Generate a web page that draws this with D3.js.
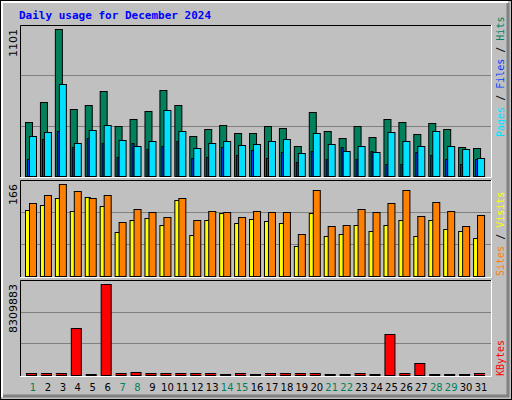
<!DOCTYPE html>
<html>
<head>
  <script src="https://d3js.org/d3.v7.min.js"></script>
  <style>body{margin:0;background:#fff}</style>
</head>
<body>
<div id="chart"></div>
<script>
// Daily values
const days = d3.range(1, 32);
const weekend = [1, 7, 8, 14, 15, 21, 22, 28, 29];
const hits = [404,554,1101,499,532,636,377,424,486,643,532,299,353,382,321,321,375,362,225,479,337,285,375,292,427,404,315,397,353,217,208];
const files = [299,326,689,247,345,382,272,225,259,494,339,210,247,262,232,240,262,277,172,322,240,187,225,180,326,259,225,337,225,202,135];
const pages = [127,277,337,217,284,247,142,247,202,225,262,135,142,217,157,195,135,180,105,187,127,217,127,187,90,90,180,157,127,90,127];
const visits = [132,147,166,153,140,147,97,120,115,106,140,101,117,115,106,117,115,115,76,156,90,92,120,115,132,155,108,133,117,90,110];
const sites = [119,128,140,117,142,126,80,101,104,92,137,74,101,114,96,103,99,96,54,114,72,76,92,81,92,101,72,101,85,81,69];
const kbytes = [180000,180000,180000,4310000,50000,8309883,180000,300000,180000,180000,180000,180000,180000,50000,180000,50000,180000,180000,180000,180000,50000,50000,180000,50000,3760000,180000,1120000,50000,50000,50000,180000];
const maxTop = 1101, maxMid = 166, maxBot = 8309883;

const W = 512, H = 400;
const svg = d3.select("#chart").append("svg").attr("width", W).attr("height", H)
  .style("font-family", "'DejaVu Sans Mono', monospace");

// frame
svg.append("rect").attr("x", 0.5).attr("y", 0.5).attr("width", W - 1).attr("height", H - 1).attr("fill", "#c0c0c0").attr("stroke", "#000");
svg.append("path").attr("d", "M2,397V2H508").attr("fill", "none").attr("stroke", "#fff").attr("stroke-width", 2);
svg.append("path").attr("d", "M508,3V396H3").attr("fill", "none").attr("stroke", "#808080").attr("stroke-width", 3);

svg.append("text").attr("x", 19).attr("y", 19).text("Daily usage for December 2024")
  .attr("fill", "#0000ff").attr("font-weight", "bold").attr("font-size", 11);

const x = d3.scaleBand().domain(days).range([23, 471 + 15]).paddingInner(0);

function panel(top, bottom, max) {
  svg.append("rect").attr("x", 20).attr("y", top).attr("width", 471).attr("height", bottom - top + 1).attr("fill", "#c0c0c0");
  svg.append("path").attr("d", `M20.5,${bottom + 1}V${top + 0.5}H491`).attr("fill", "none").attr("stroke", "#000");
  svg.append("path").attr("d", `M491.5,${top}V${bottom + 1.5}H20`).attr("fill", "none").attr("stroke", "#fff");
  const y = d3.scaleLinear().domain([0, max]).range([bottom, top + 4]);
  [1 / 3, 2 / 3].forEach(f => {
    const gy = Math.round(bottom - (bottom - top) * f) + 0.5;
    svg.append("line").attr("x1", 21).attr("x2", 491).attr("y1", gy).attr("y2", gy).attr("stroke", "#808080");
  });
  svg.append("text").attr("transform", `translate(17,${top + 4}) rotate(-90)`).attr("text-anchor", "end")
    .attr("font-size", 11).attr("font-family", "'DejaVu Sans', sans-serif").text(max);
  return y;
}

function bars(data, y, dx, w, color) {
  svg.append("g").selectAll("rect").data(data).join("rect")
    .attr("x", (d, i) => x(days[i]) + dx + 0.5).attr("y", d => Math.round(y(d)) + 0.5)
    .attr("width", w).attr("height", d => Math.max(0, y.range()[0] - Math.round(y(d))))
    .attr("fill", color).attr("stroke", "#000");
}

const yTop = panel(25, 176, maxTop);
bars(hits, yTop, 2, 7, "#00805c");
bars(pages, yTop, 4, 2, "#0040ff");
bars(files, yTop, 6, 7, "#00e0ff");

const yMid = panel(180, 276, maxMid);
bars(sites, yMid, 2, 5, "#ffff00");
bars(visits, yMid, 6, 7, "#ff8000");

const yBot = panel(280, 375, maxBot);
bars(kbytes, yBot, 3, 10, "#ff0000");

svg.append("g").selectAll("text").data(days).join("text")
  .attr("x", d => x(d) + 10).attr("y", 391).attr("text-anchor", "middle")
  .attr("font-size", 10).attr("font-family", "'DejaVu Sans', sans-serif")
  .attr("fill", d => weekend.includes(d) ? "#00805c" : "#000").text(d => d);

function sideLabel(yBase, parts) {
  const t = svg.append("text").attr("transform", `translate(504,${yBase}) rotate(-90)`)
    .attr("font-size", 10).attr("xml:space", "preserve").style("white-space", "pre");
  parts.forEach(([s, c]) => t.append("tspan").attr("fill", c).text(s));
}
sideLabel(137, [["Pages", "#00e0ff"], [" / ", "#000"], ["Files", "#0040ff"], [" / ", "#000"], ["Hits", "#00805c"]]);
sideLabel(276, [["Sites", "#ff8000"], [" / ", "#000"], ["Visits", "#ffff00"]]);
sideLabel(376, [["KBytes", "#ff0000"]]);
</script>
</body>
</html>
